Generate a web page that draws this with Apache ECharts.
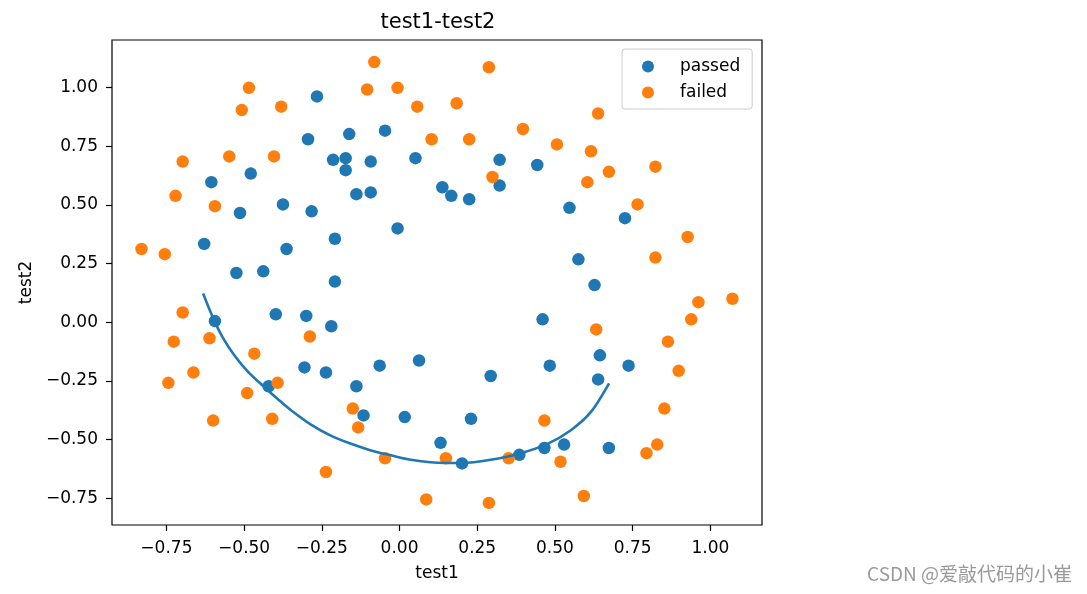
<!DOCTYPE html>
<html>
<head>
<meta charset="utf-8">
<script src="https://cdn.jsdelivr.net/npm/echarts@6/dist/echarts.min.js"></script>
<style>
html,body{margin:0;padding:0;background:#fff;}
#chart{width:1087px;height:594px;}
</style>
</head>
<body>
<div id="chart"></div>
<script>
const passed = [[0.051267,0.69956],[-0.092742,0.68494],[-0.21371,0.69225],[-0.375,0.50219],[-0.51325,0.46564],[-0.52477,0.2098],[-0.39804,0.034357],[-0.30588,-0.19225],[0.016705,-0.40424],[0.13191,-0.51389],[0.38537,-0.56506],[0.52938,-0.5212],[0.63882,-0.24342],[0.73675,-0.18494],[0.54666,0.48757],[0.322,0.5826],[0.16647,0.53874],[-0.046659,0.81652],[-0.17339,0.69956],[-0.47869,0.63377],[-0.60541,0.59722],[-0.62846,0.33406],[-0.59389,0.005117],[-0.42108,-0.27266],[-0.11578,-0.39693],[0.20104,-0.60161],[0.46601,-0.53582],[0.67339,-0.53582],[-0.13882,0.54605],[-0.29435,0.77997],[-0.26555,0.96272],[-0.16187,0.8019],[-0.17339,0.64839],[-0.28283,0.47295],[-0.36348,0.31213],[-0.30012,0.027047],[-0.23675,-0.21418],[-0.06394,-0.18494],[0.062788,-0.16301],[0.22984,-0.41155],[0.2932,-0.2288],[0.48329,-0.18494],[0.64459,-0.14108],[0.46025,0.012427],[0.6273,0.15863],[0.57546,0.26827],[0.72523,0.44371],[0.22408,0.52412],[0.44297,0.67032],[0.322,0.69225],[0.13767,0.57529],[-0.0063364,0.39985],[-0.092742,0.55336],[-0.20795,0.35599],[-0.20795,0.17325],[-0.43836,0.21711],[-0.21947,-0.016813],[-0.13882,-0.27266]];
const failed = [[0.18376,0.93348],[0.22408,0.77997],[0.29896,0.61915],[0.50634,0.75804],[0.61578,0.7288],[0.60426,0.59722],[0.76555,0.50219],[0.92684,0.3633],[0.82316,0.27558],[0.96141,0.085526],[0.93836,0.012427],[0.86348,-0.082602],[0.89804,-0.20687],[0.85196,-0.36769],[0.82892,-0.5212],[0.79435,-0.55775],[0.59274,-0.7405],[0.51786,-0.5943],[0.46601,-0.41886],[0.35081,-0.57968],[0.28744,-0.76974],[0.085829,-0.75512],[0.14919,-0.57968],[-0.13306,-0.4481],[-0.40956,-0.41155],[-0.39228,-0.25804],[-0.74366,-0.25804],[-0.69758,0.041667],[-0.75518,0.2902],[-0.69758,0.68494],[-0.4038,0.70687],[-0.38076,0.91886],[-0.50749,0.90424],[-0.54781,0.70687],[0.10311,0.77997],[0.057028,0.91886],[-0.10426,0.99196],[-0.081221,1.1089],[0.28744,1.087],[0.39689,0.82383],[0.63882,0.88962],[0.82316,0.66301],[0.67339,0.64108],[1.0709,0.10015],[-0.046659,-0.57968],[-0.23675,-0.63816],[-0.15035,-0.36769],[-0.49021,-0.3019],[-0.46717,-0.13377],[-0.28859,-0.060673],[-0.61118,-0.067982],[-0.66302,-0.21418],[-0.59965,-0.41886],[-0.72638,-0.082602],[-0.83007,0.31213],[-0.72062,0.53874],[-0.59389,0.49488],[-0.48445,0.99927],[-0.0063364,0.99927],[0.63265,-0.030612]];
const curveX = [-0.632,-0.596,-0.569,-0.531,-0.488,-0.430,-0.392,-0.349,-0.285,-0.221,-0.156,-0.092,-0.028,0.036,0.143,0.202,0.293,0.384,0.476,0.550,0.615,0.674];
const curveY = [0.123,0.007,-0.064,-0.142,-0.210,-0.282,-0.327,-0.375,-0.436,-0.483,-0.518,-0.546,-0.567,-0.586,-0.600,-0.600,-0.586,-0.560,-0.518,-0.461,-0.383,-0.260];
const xTickValues = [-0.75,-0.5,-0.25,0,0.25,0.5,0.75,1.0];
const xTickLabels = ['\u22120.75','\u22120.50','\u22120.25','0.00','0.25','0.50','0.75','1.00'];
const yTickValues = [-0.75,-0.5,-0.25,0,0.25,0.5,0.75,1.0];
const yTickLabels = ['\u22120.75','\u22120.50','\u22120.25','0.00','0.25','0.50','0.75','1.00'];

function fmt(values, labels) {
  return function (v) {
    const i = values.findIndex(t => Math.abs(t - v) < 1e-9);
    return i >= 0 ? labels[i] : '';
  };
}
const FONT = 'DejaVu Sans';
const chart = echarts.init(document.getElementById('chart'), null, {renderer: 'canvas'});
chart.setOption({
  animation: false,
  backgroundColor: '#ffffff',
  title: {
    text: 'test1-test2',
    left: 433, top: 7, textAlign: 'center',
    textStyle: {fontFamily: FONT, fontSize: 21, fontWeight: 'normal', color: '#000'}
  },
  grid: {left: 112, right: 325, top: 40, bottom: 69, show: true, borderColor: '#000', borderWidth: 1.2, backgroundColor: 'transparent'},
  legend: {
    data: ['passed', 'failed'],
    orient: 'vertical',
    left: 622, top: 49,
    padding: [9, 12, 8, 20],
    itemGap: 9,
    itemWidth: 54, itemHeight: 12,
    borderColor: '#cccccc', borderWidth: 1, borderRadius: 3,
    backgroundColor: 'rgba(255,255,255,0.8)',
    textStyle: {fontFamily: FONT, fontSize: 17, color: '#000'}
  },
  xAxis: {
    type: 'value', min: -0.925, max: 1.166,
    name: 'test1', nameLocation: 'middle', nameGap: 40,
    nameTextStyle: {fontFamily: FONT, fontSize: 17, color: '#000'},
    axisLine: {show: false, onZero: false},
    splitLine: {show: false},
    axisTick: {show: true, inside: false, length: 6, lineStyle: {color: '#000', width: 1.2}, customValues: xTickValues},
    axisLabel: {margin: 15, fontFamily: FONT, fontSize: 17, color: '#000', customValues: xTickValues, formatter: fmt(xTickValues, xTickLabels)}
  },
  yAxis: {
    type: 'value', min: -0.864, max: 1.203,
    name: 'test2', nameLocation: 'middle', nameGap: 76,
    nameTextStyle: {fontFamily: FONT, fontSize: 17, color: '#000'},
    axisLine: {show: false, onZero: false},
    splitLine: {show: false},
    axisTick: {show: true, inside: false, length: 6, lineStyle: {color: '#000', width: 1.2}, customValues: yTickValues},
    axisLabel: {margin: 14, fontFamily: FONT, fontSize: 17, color: '#000', customValues: yTickValues, formatter: fmt(yTickValues, yTickLabels)}
  },
  series: [
    {name: 'passed', type: 'scatter', data: passed, symbol: 'circle', symbolSize: 12.5, itemStyle: {color: '#1f77b4', opacity: 1}, z: 2},
    {name: 'failed', type: 'scatter', data: failed, symbol: 'circle', symbolSize: 12.5, itemStyle: {color: '#ff7f0e', opacity: 1}, z: 2},
    {name: 'boundary', type: 'line', data: curveX.map((x, i) => [x, curveY[i]]), showSymbol: false, smooth: 0.3,
     lineStyle: {color: '#1f77b4', width: 2.6}, z: 3}
  ],
  graphic: [{
    type: 'text', right: 15, top: 564,
    style: {text: 'CSDN @爱敲代码的小崔', fontFamily: 'Noto Sans CJK SC', fontSize: 19, fill: '#9a9a9a'}
  }]
});
</script>
</body>
</html>
